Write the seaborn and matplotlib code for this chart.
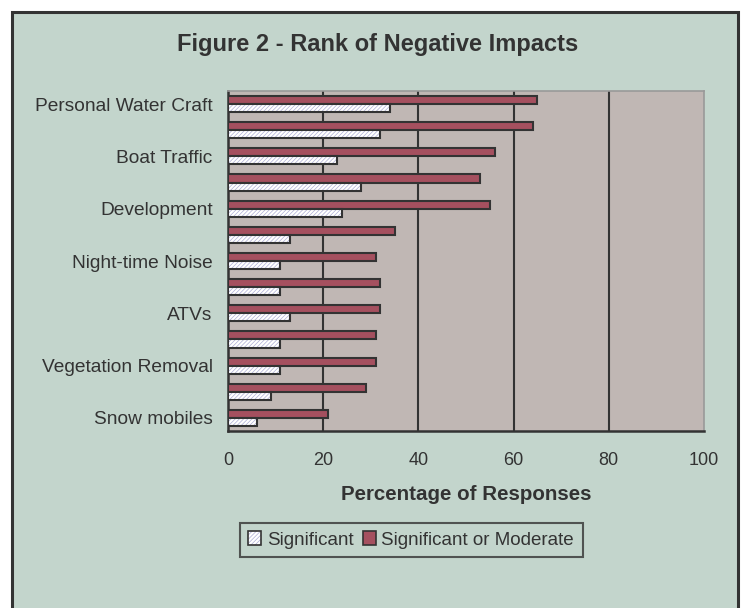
import matplotlib
matplotlib.use("Agg")
import matplotlib.pyplot as plt
from matplotlib.patches import Rectangle
import seaborn as sns
import pandas as pd

# ---- data ----
category_keys = ["c01", "c02", "c03", "c04", "c05", "c06", "c07",
                 "c08", "c09", "c10", "c11", "c12", "c13"]
tick_labels = ["Personal Water Craft", "", "Boat Traffic", "", "Development", "",
               "Night-time Noise", "", "ATVs", "", "Vegetation Removal", "",
               "Snow mobiles"]
significant = [34, 32, 23, 28, 24, 13, 11, 11, 13, 11, 11, 9, 6]
sig_or_moderate = [65, 64, 56, 53, 55, 35, 31, 32, 32, 31, 31, 29, 21]
series_names = ["Significant", "Significant or Moderate"]
x_ticks = [0, 20, 40, 60, 80, 100]

df = pd.DataFrame({
    "category": category_keys * 2,
    "value": sig_or_moderate + significant,
    "series": [series_names[1]] * len(category_keys) + [series_names[0]] * len(category_keys),
})

# ---- style ----
sns.set_theme(style="white")
plt.rcParams["font.family"] = ["Liberation Sans", "DejaVu Sans"]
plt.rcParams["hatch.linewidth"] = 0.5
TXT = "#333333"
BG = "#C3D5CC"
PLOT_BG = "#C0B7B4"
RED = "#A5505F"
HATCH_COL = "#ADADD6"
EDGE = "#333333"

W, H = 741, 608
fig = plt.figure(figsize=(W / 100, H / 100), dpi=100)
fig.patch.set_facecolor("white")
bg_rect = Rectangle((12 / W, -0.05), (738 - 12) / W, 1.05 - 12 / H,
                    transform=fig.transFigure, facecolor=BG,
                    edgecolor=EDGE, linewidth=2.2, zorder=-10)
fig.add_artist(bg_rect)

ax = fig.add_axes([228 / W, 1 - 431 / H, (704 - 228) / W, (431 - 91) / H])
ax.set_zorder(1)
ax.set_facecolor(PLOT_BG)

sns.barplot(data=df, y="category", x="value", hue="series",
            hue_order=[series_names[1], series_names[0]],
            order=category_keys, orient="h", width=0.62, dodge=True,
            palette={series_names[1]: RED, series_names[0]: "white"},
            saturation=1, ax=ax, legend=False, zorder=3)

n = len(category_keys)
patches = list(ax.patches)
for i, p in enumerate(patches):
    if i < n:
        p.set_facecolor(RED)
        p.set_edgecolor(EDGE)
        p.set_linewidth(1.5)
    else:
        p.set_facecolor("white")
        p.set_edgecolor(HATCH_COL)
        p.set_hatch("////////")
        p.set_linewidth(0)
        outline = Rectangle(p.get_xy(), p.get_width(), p.get_height(),
                            facecolor="none", edgecolor=EDGE, linewidth=1.5, zorder=4)
        ax.add_patch(outline)

ax.set_xlim(0, 100)
ax.set_ylim(n - 0.5, -0.5)
ax.set_xticks(x_ticks)
ax.set_xticklabels([str(t) for t in x_ticks], fontsize=13, color=TXT)
ax.set_yticks(range(n))
ax.set_yticklabels(tick_labels, fontsize=13.8, color=TXT)
ax.set_yticks([i + 0.5 for i in range(-1, n)], minor=True)
ax.tick_params(axis="y", which="major", length=0, pad=11)
ax.tick_params(axis="y", which="minor", length=6, width=1.5, color=EDGE, direction="out")
ax.tick_params(axis="x", which="major", length=8, width=1.5, color=EDGE,
               direction="inout", pad=11)
ax.set_xlabel("")
ax.set_ylabel("")

ax.grid(False)
for x in x_ticks[1:-1]:
    ax.axvline(x, color=EDGE, linewidth=1.5, zorder=1)

for s in ["left", "bottom"]:
    ax.spines[s].set_color(EDGE)
    ax.spines[s].set_linewidth(1.8)
for s in ["top", "right"]:
    ax.spines[s].set_color("#999999")
    ax.spines[s].set_linewidth(1.2)

fig.text(378 / W, 1 - 45 / H, "Figure 2 - Rank of Negative Impacts",
         ha="center", va="center", fontsize=17, fontweight="bold", color=TXT)
fig.text(466 / W, 1 - 494 / H, "Percentage of Responses",
         ha="center", va="center", fontsize=14.8, fontweight="bold", color=TXT)

h_sig = Rectangle((0, 0), 1, 1, facecolor="white", edgecolor=HATCH_COL, hatch="////////", linewidth=0)
h_sig_outline = Rectangle((0, 0), 1, 1, facecolor="none", edgecolor=EDGE, linewidth=1.2)
h_sm = Rectangle((0, 0), 1, 1, facecolor=RED, edgecolor=EDGE, linewidth=1.2)
leg = fig.legend([(h_sig, h_sig_outline), h_sm], series_names, ncol=2,
                 loc="center", bbox_to_anchor=(411 / W, 1 - 540 / H),
                 frameon=True, fancybox=False, fontsize=13.5,
                 handlelength=0.7, handleheight=0.7, handletextpad=0.3,
                 columnspacing=0.5, borderpad=0.45, labelcolor=TXT)
leg.get_frame().set_facecolor(BG)
leg.get_frame().set_edgecolor(EDGE)
leg.get_frame().set_linewidth(1.5)

fig.savefig("out.png", dpi=100, facecolor=fig.get_facecolor())
